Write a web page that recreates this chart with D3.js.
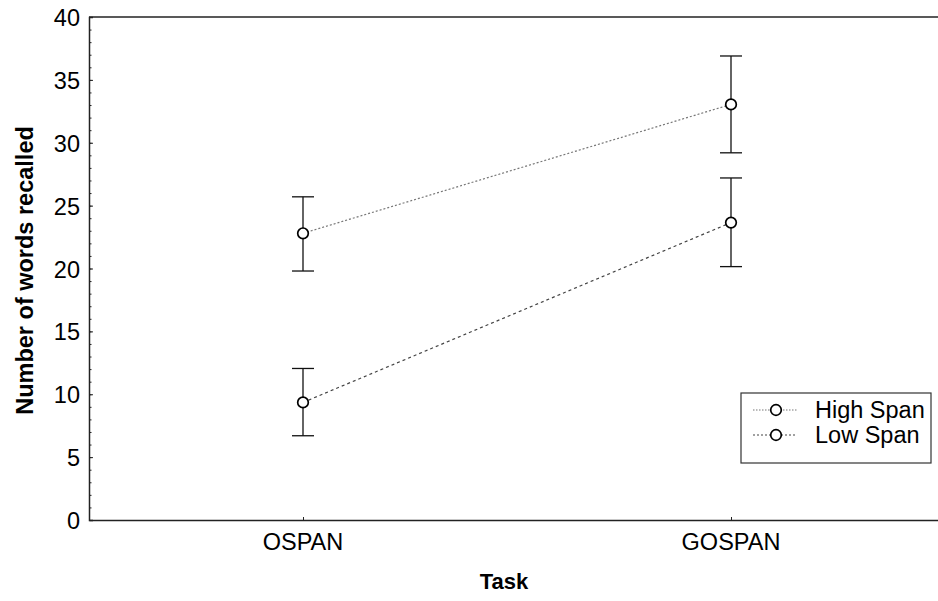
<!DOCTYPE html>
<html lang="en">
<head>
	<meta charset="UTF-8"/>
	<title>Number of words recalled by task</title>
	<script src="https://d3js.org/d3.v7.min.js"></script>
	<style>
		body { margin: 0; background: #fff; }
		text { font-family: Arial, "Liberation Sans", Helvetica, sans-serif; fill: #000; }
		.axis path, .axis line { stroke: #222; }
		.tickLabel { font-size: 23.5px; }
		.axisTitle { font-size: 22px; font-weight: bold; }
		.errbar { stroke: #111; stroke-width: 1.3; fill: none; }
		.dot { fill: #fff; stroke: #000; stroke-width: 1.7; }
	</style>
</head>
<body>
	<div id="chart"></div>

	<script>
	// data
	var tasks = ["OSPAN", "GOSPAN"];
	var groups = ["High Span", "Low Span"];
	var highMean  = [22.8, 33.05];
	var highLower = [19.8, 29.2];
	var highUpper = [25.7, 36.9];
	var lowMean  = [9.35, 23.65];
	var lowLower = [6.7, 20.15];
	var lowUpper = [12.05, 27.2];
	var yTicks = [0, 5, 10, 15, 20, 25, 30, 35, 40];

	var w = 938;
	var h = 601;
	var plotL = 89, plotR = 945, plotT = 17, plotB = 520;

	var series = [
		{ name: groups[0], mean: highMean, lo: highLower, hi: highUpper, stroke: "#777", dash: "2,2" },
		{ name: groups[1], mean: lowMean, lo: lowLower, hi: lowUpper, stroke: "#444", dash: "3,3" }
	];

	var xScale = d3.scalePoint()
		.domain(tasks)
		.range([plotL, plotR])
		.padding(0.5);

	var yScale = d3.scaleLinear()
		.domain([0, 40])
		.range([plotB, plotT]);

	var svg = d3.select("#chart")
		.append("svg")
		.attr("width", w)
		.attr("height", h);

	// frame: top and right edges (right is beyond the window)
	svg.append("line")
		.attr("x1", plotL).attr("x2", plotR)
		.attr("y1", plotT).attr("y2", plotT)
		.attr("stroke", "#222").attr("stroke-width", 1.5);
	svg.append("line")
		.attr("x1", plotR).attr("x2", plotR)
		.attr("y1", plotT).attr("y2", plotB)
		.attr("stroke", "#222").attr("stroke-width", 1.5);

	// y axis, ticks pointing inwards
	var yAxis = d3.axisRight(yScale)
		.tickValues(yTicks)
		.tickSize(4)
		.tickFormat("");
	var yMinor = d3.axisRight(yScale)
		.tickValues(d3.range(0, 41, 1))
		.tickSize(2.5)
		.tickFormat("");

	svg.append("g")
		.attr("class", "axis")
		.attr("transform", "translate(" + plotL + ",0)")
		.call(yMinor)
		.call(function(g){ g.select(".domain").remove(); });

	svg.append("g")
		.attr("class", "axis")
		.attr("transform", "translate(" + plotL + ",0)")
		.call(yAxis)
		.call(function(g){ g.select(".domain").attr("stroke-width", 1.5); });

	svg.selectAll(".yLabel")
		.data(yTicks)
		.enter()
		.append("text")
		.attr("class", "tickLabel")
		.attr("x", plotL - 9)
		.attr("y", function(d){ return yScale(d) + 9; })
		.attr("text-anchor", "end")
		.text(function(d){ return d; });

	// x axis, ticks pointing up
	var xAxis = d3.axisTop(xScale)
		.tickSize(3)
		.tickSizeOuter(0)
		.tickFormat("");

	svg.append("g")
		.attr("class", "axis")
		.attr("transform", "translate(0," + plotB + ")")
		.call(xAxis)
		.call(function(g){ g.select(".domain").attr("stroke-width", 1.5); });

	svg.selectAll(".xLabel")
		.data(tasks)
		.enter()
		.append("text")
		.attr("class", "tickLabel")
		.attr("x", function(d){ return xScale(d); })
		.attr("y", plotB + 30)
		.attr("text-anchor", "middle")
		.text(function(d){ return d; });

	// axis titles
	svg.append("text")
		.attr("class", "axisTitle")
		.attr("x", 504)
		.attr("y", 589)
		.attr("text-anchor", "middle")
		.text("Task");

	svg.append("text")
		.attr("class", "axisTitle")
		.style("font-size", "23.5px")
		.attr("transform", "translate(33," + ((plotT + plotB) / 2 + 2) + ") rotate(-90)")
		.attr("text-anchor", "middle")
		.text("Number of words recalled");

	// error bars
	var capW = 11;
	series.forEach(function(s){
		var g = svg.append("g");
		tasks.forEach(function(t, i){
			var x = xScale(t);
			g.append("line").attr("class", "errbar")
				.attr("x1", x).attr("x2", x)
				.attr("y1", yScale(s.lo[i])).attr("y2", yScale(s.hi[i]));
			g.append("line").attr("class", "errbar")
				.attr("x1", x - capW).attr("x2", x + capW)
				.attr("y1", yScale(s.lo[i])).attr("y2", yScale(s.lo[i]));
			g.append("line").attr("class", "errbar")
				.attr("x1", x - capW).attr("x2", x + capW)
				.attr("y1", yScale(s.hi[i])).attr("y2", yScale(s.hi[i]));
		});
	});

	// connecting lines
	var line = d3.line()
		.x(function(d){ return xScale(d.task); })
		.y(function(d){ return yScale(d.value); });

	series.forEach(function(s){
		var pts = tasks.map(function(t, i){ return { task: t, value: s.mean[i] }; });
		svg.append("path")
			.datum(pts)
			.attr("d", line)
			.attr("fill", "none")
			.attr("stroke", s.stroke)
			.attr("stroke-width", 1.2)
			.attr("stroke-dasharray", s.dash);
		svg.selectAll(null)
			.data(pts)
			.enter()
			.append("circle")
			.attr("class", "dot")
			.attr("cx", function(d){ return xScale(d.task); })
			.attr("cy", function(d){ return yScale(d.value); })
			.attr("r", 5.3);
	});

	// legend
	var legend = svg.append("g").attr("transform", "translate(741,393)");
	legend.append("rect")
		.attr("width", 190).attr("height", 70)
		.attr("fill", "#fff").attr("stroke", "#333").attr("stroke-width", 1.2);

	series.forEach(function(s, i){
		var y = 17 + i * 25;
		legend.append("line")
			.attr("x1", 12).attr("x2", 56)
			.attr("y1", y).attr("y2", y)
			.attr("stroke", s.stroke).attr("stroke-width", 1.2)
			.attr("stroke-dasharray", i == 0 ? "1.5,1.5" : "2,2");
		legend.append("circle")
			.attr("class", "dot")
			.attr("cx", 35).attr("cy", y).attr("r", 5.3);
		legend.append("text")
			.attr("class", "tickLabel")
			.attr("x", 74)
			.attr("y", y + 8)
			.text(s.name);
	});
	</script>
</body>
</html>
